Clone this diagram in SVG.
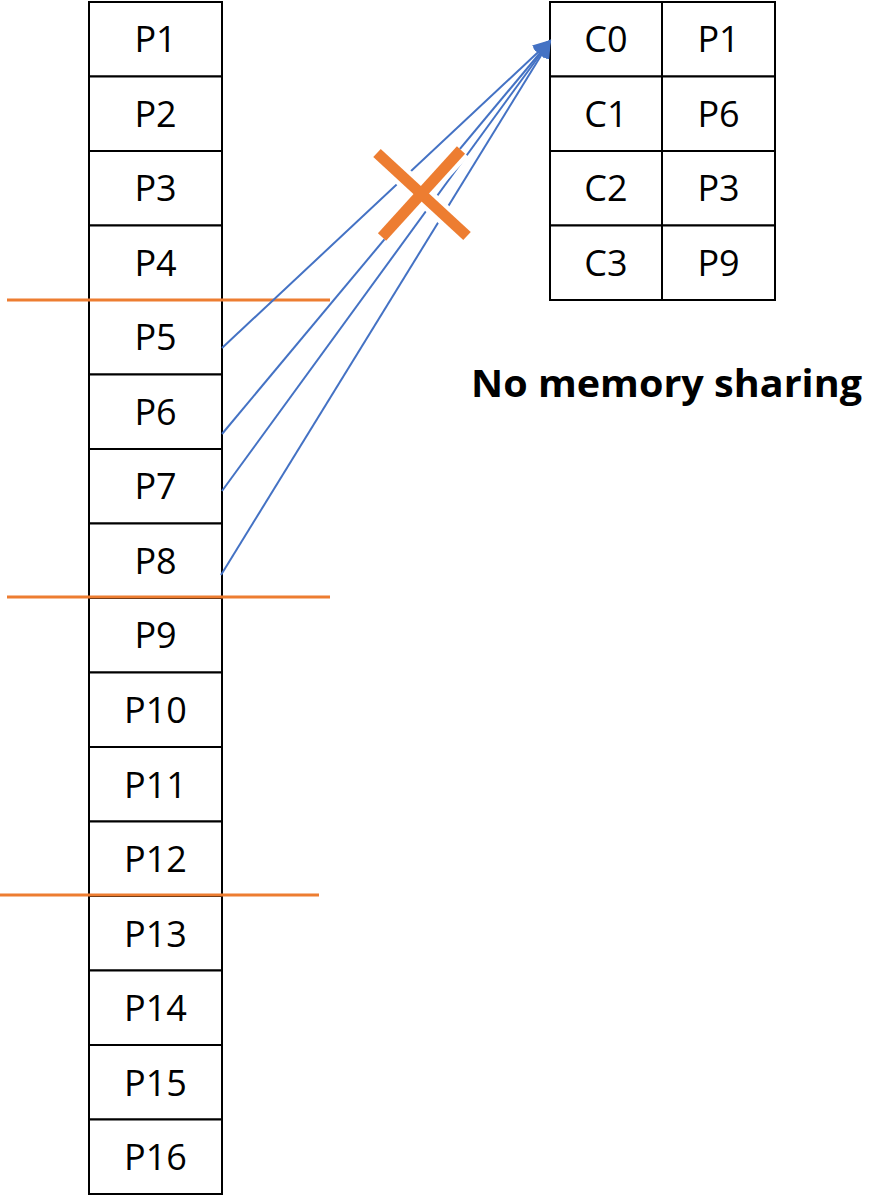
<svg xmlns="http://www.w3.org/2000/svg" width="872" height="1196" viewBox="0 0 872 1196">
  <style>
    .cell { fill: #ffffff; stroke: #000000; stroke-width: 2; }
    .lbl { font-family: "Open Sans", "Liberation Sans", sans-serif; font-size: 36px; fill: #000000; text-anchor: middle; }
    .cut { stroke: #ED7D31; stroke-width: 3; fill: none; }
    .link { stroke: #4472C4; stroke-width: 2; fill: none; }
    .title { font-family: "Open Sans", "Liberation Sans", sans-serif; font-size: 37px; font-weight: bold; fill: #000000; }
  </style>
  <defs>
    <marker id="head" viewBox="0 0 10 10" refX="9" refY="5" markerWidth="9" markerHeight="9" orient="auto" markerUnits="strokeWidth">
      <path d="M0,0 L10,5 L0,10 z" fill="#4472C4"/>
    </marker>
  </defs>

  <!-- page column -->
  <g id="pages">
    <g id="p1"><rect class="cell" x="89" y="2" width="133" height="74.5"/><text class="lbl" x="155.5" y="52">P1</text></g>
    <g id="p2"><rect class="cell" x="89" y="76.5" width="133" height="74.5"/><text class="lbl" x="155.5" y="126.5">P2</text></g>
    <g id="p3"><rect class="cell" x="89" y="151" width="133" height="74.5"/><text class="lbl" x="155.5" y="201">P3</text></g>
    <g id="p4"><rect class="cell" x="89" y="225.5" width="133" height="74.5"/><text class="lbl" x="155.5" y="275.5">P4</text></g>
    <g id="p5"><rect class="cell" x="89" y="300" width="133" height="74.5"/><text class="lbl" x="155.5" y="350">P5</text></g>
    <g id="p6"><rect class="cell" x="89" y="374.5" width="133" height="74.5"/><text class="lbl" x="155.5" y="424.5">P6</text></g>
    <g id="p7"><rect class="cell" x="89" y="449" width="133" height="74.5"/><text class="lbl" x="155.5" y="499">P7</text></g>
    <g id="p8"><rect class="cell" x="89" y="523.5" width="133" height="74.5"/><text class="lbl" x="155.5" y="573.5">P8</text></g>
    <g id="p9"><rect class="cell" x="89" y="598" width="133" height="74.5"/><text class="lbl" x="155.5" y="648">P9</text></g>
    <g id="p10"><rect class="cell" x="89" y="672.5" width="133" height="74.5"/><text class="lbl" x="155.5" y="723">P10</text></g>
    <g id="p11"><rect class="cell" x="89" y="747" width="133" height="74.5"/><text class="lbl" x="155.5" y="797.5">P11</text></g>
    <g id="p12"><rect class="cell" x="89" y="821.5" width="133" height="74.5"/><text class="lbl" x="155.5" y="872">P12</text></g>
    <g id="p13"><rect class="cell" x="89" y="896" width="133" height="74.5"/><text class="lbl" x="155.5" y="946.5">P13</text></g>
    <g id="p14"><rect class="cell" x="89" y="970.5" width="133" height="74.5"/><text class="lbl" x="155.5" y="1021">P14</text></g>
    <g id="p15"><rect class="cell" x="89" y="1045" width="133" height="74.5"/><text class="lbl" x="155.5" y="1095.5">P15</text></g>
    <g id="p16"><rect class="cell" x="89" y="1119.5" width="133" height="74.5"/><text class="lbl" x="155.5" y="1170">P16</text></g>
  </g>

  <!-- cache table -->
  <g id="cache">
    <g id="c0"><rect class="cell" x="550" y="2" width="112" height="74.5"/><text class="lbl" x="606" y="52">C0</text></g>
    <g id="c0v"><rect class="cell" x="662" y="2" width="113" height="74.5"/><text class="lbl" x="718.5" y="52">P1</text></g>
    <g id="c1"><rect class="cell" x="550" y="76.5" width="112" height="74.5"/><text class="lbl" x="606" y="126.5">C1</text></g>
    <g id="c1v"><rect class="cell" x="662" y="76.5" width="113" height="74.5"/><text class="lbl" x="718.5" y="126.5">P6</text></g>
    <g id="c2"><rect class="cell" x="550" y="151" width="112" height="74.5"/><text class="lbl" x="606" y="201">C2</text></g>
    <g id="c2v"><rect class="cell" x="662" y="151" width="113" height="74.5"/><text class="lbl" x="718.5" y="201">P3</text></g>
    <g id="c3"><rect class="cell" x="550" y="225.5" width="112" height="74.5"/><text class="lbl" x="606" y="275.5">C3</text></g>
    <g id="c3v"><rect class="cell" x="662" y="225.5" width="113" height="74.5"/><text class="lbl" x="718.5" y="275.5">P9</text></g>
  </g>

  <!-- partition boundaries -->
  <g id="partitions">
    <line class="cut" x1="7" y1="300" x2="330" y2="300"/>
    <line class="cut" x1="7" y1="597" x2="330" y2="597"/>
    <line class="cut" x1="0" y1="895" x2="319" y2="895"/>
  </g>

  <!-- mappings into cache entry C0 -->
  <g id="connectors">
    <line class="link" x1="222" y1="348" x2="550" y2="41" marker-end="url(#head)"/>
    <line class="link" x1="222" y1="434" x2="550" y2="41" marker-end="url(#head)"/>
    <line class="link" x1="222" y1="491" x2="550" y2="41" marker-end="url(#head)"/>
    <line class="link" x1="221" y1="575" x2="550" y2="41" marker-end="url(#head)"/>
  </g>

  <!-- conflict mark -->
  <g id="conflict">
    <line x1="377" y1="153" x2="467" y2="236" stroke="#ffffff" stroke-width="20"/>
    <line x1="382" y1="237" x2="461" y2="150" stroke="#ffffff" stroke-width="20"/>
    <line x1="377" y1="153" x2="467" y2="236" stroke="#ED7D31" stroke-width="11"/>
    <line x1="382" y1="237" x2="461" y2="150" stroke="#ED7D31" stroke-width="11"/>
  </g>

  <g id="caption">
    <text class="title" x="471" y="397" textLength="391" lengthAdjust="spacingAndGlyphs">No memory sharing</text>
  </g>
</svg>
